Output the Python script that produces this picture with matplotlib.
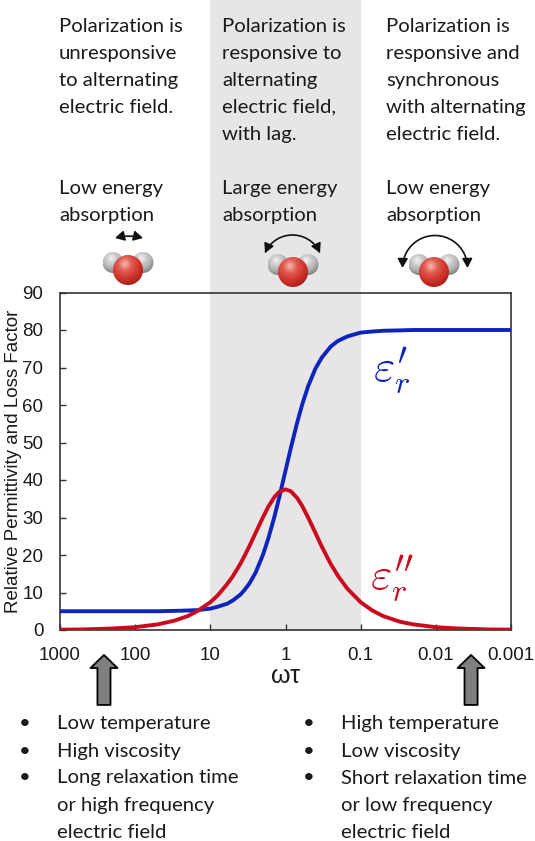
import numpy as np
import matplotlib.pyplot as plt
from matplotlib.patches import Circle, FancyArrowPatch
from matplotlib.path import Path
from matplotlib.colors import LinearSegmentedColormap

# values
wt = [1000, 500, 200, 100, 50, 30, 20, 15, 10, 8, 6, 5, 4, 3.5, 3, 2.5, 2, 1.7,
      1.4, 1.2, 1, 0.85, 0.7, 0.6, 0.5, 0.4, 0.33, 0.25, 0.2, 0.15, 0.1, 0.07,
      0.05, 0.03, 0.02, 0.01, 0.005, 0.002, 0.001]
eps_real = [5.0, 5.0, 5.0, 5.0, 5.0, 5.1, 5.2, 5.3, 5.7, 6.2, 7.0, 7.9, 9.4, 10.7,
            12.5, 15.3, 20.0, 24.3, 30.3, 35.7, 42.5, 48.5, 55.3, 60.1, 65.0, 69.7,
            72.6, 75.6, 77.1, 78.3, 79.3, 79.6, 79.8, 79.9, 80.0, 80.0, 80.0, 80.0, 80.0]
eps_loss = [0.1, 0.15, 0.4, 0.75, 1.5, 2.5, 3.7, 5.0, 7.4, 9.2, 12.2, 14.4, 17.6, 19.8,
            22.5, 25.9, 30.0, 32.8, 35.5, 36.9, 37.5, 37.0, 35.2, 33.1, 30.0, 25.9,
            22.3, 17.6, 14.4, 11.0, 7.4, 5.2, 3.7, 2.2, 1.5, 0.75, 0.4, 0.15, 0.1]

xticks = [1000, 100, 10, 1, 0.1, 0.01, 0.001]
xtick_labels = ['1000', '100', '10', '1', '0.1', '0.01', '0.001']
yticks = [0, 10, 20, 30, 40, 50, 60, 70, 80, 90]
band = [10, 0.1]
arrow_wt = [260, 0.0034]

top_notes = [
    ['Polarization is', 'unresponsive', 'to alternating', 'electric field.'],
    ['Polarization is', 'responsive to', 'alternating', 'electric field,', 'with lag.'],
    ['Polarization is', 'responsive and', 'synchronous', 'with alternating', 'electric field.'],
]
energy_notes = [
    ['Low energy', 'absorption'],
    ['Large energy', 'absorption'],
    ['Low energy', 'absorption'],
]
left_bullets = ['Low temperature', 'High viscosity', 'Long relaxation time',
                'or high frequency', 'electric field']
right_bullets = ['High temperature', 'Low viscosity', 'Short relaxation time',
                 'or low frequency', 'electric field']
bullet_on = [True, True, True, False, False]

blue = '#0d25bd'
red = '#cc0a1e'
ink = '#1a1a1a'
txt = dict(family='Lato', fontsize=14.6, color=ink, va='baseline', ha='left')

fig = plt.figure(figsize=(5.35, 8.41), dpi=100)
ax = fig.add_axes([60/535, 211/841, 451/535, 337.5/841])

ax.axvspan(band[0], band[1], ymin=0, ymax=630/337.5, color='#e7e5e6', lw=0,
           zorder=0, clip_on=False)
ax.plot(wt, eps_real, color=blue, lw=2.8, solid_capstyle='butt', zorder=3)
ax.plot(wt, eps_loss, color=red, lw=2.8, solid_capstyle='butt', zorder=3)

ax.set_xscale('log')
ax.set_xlim(1000, 0.001)
ax.set_ylim(0, 90)
ax.set_xticks(xticks)
ax.set_xticklabels(xtick_labels)
ax.minorticks_off()
ax.set_yticks(yticks)
ax.tick_params(direction='in', length=4.5, width=1, pad=12, labelsize=13.5,
               colors='#333333', labelcolor=ink)
for lab in ax.get_xticklabels() + ax.get_yticklabels():
    lab.set_family('Liberation Sans')
for s in ax.spines.values():
    s.set_color('#333333')
    s.set_linewidth(1.2)
ax.set_ylabel('Relative Permittivity and Loss Factor', family='Liberation Sans',
              fontsize=13.5, color=ink, labelpad=0)
ax.set_xlabel('ωτ', family='Liberation Sans', fontsize=18, color=ink, labelpad=0)

ax.text(0.068, 69.5, r"$\varepsilon_r'$", color=blue, fontsize=33, va='center',
        math_fontfamily='cm')
ax.text(0.076, 14, r"$\varepsilon_r''$", color=red, fontsize=33, va='center',
        math_fontfamily='cm')

# big grey arrows under the axis
for xv in arrow_wt:
    ax.annotate('', xy=(xv, -0.074), xytext=(xv, -0.222),
                xycoords=ax.get_xaxis_transform(), textcoords=ax.get_xaxis_transform(),
                annotation_clip=False,
                arrowprops=dict(arrowstyle='simple,head_length=0.94,head_width=1.94,tail_width=0.94',
                                mutation_scale=10, fc='#7f7f7f', ec='black', lw=1.3,
                                shrinkA=0, shrinkB=0))

# overlay in pixel coordinates for the notes and molecules
ov = fig.add_axes([0, 0, 1, 1], zorder=5)
ov.axis('off')

for x0, lines in zip([59, 222, 386], top_notes):
    for i, line in enumerate(lines):
        ov.text(x0, 31.7 + 27 * i, line, **txt)
for x0, lines in zip([59, 222, 386], energy_notes):
    for i, line in enumerate(lines):
        ov.text(x0, 194 + 26.7 * i, line, **txt)

for bx, tx, lines in [(25, 57, left_bullets), (309, 341, right_bullets)]:
    for i, (line, b) in enumerate(zip(lines, bullet_on)):
        y = 729.5 + 27 * i
        if b:
            ov.text(bx, y, '•', **dict(txt, ha='center'))
        ov.text(tx, y, line, **txt)


def sphere(cx, cy, r, colors, z):
    yy, xx = np.mgrid[-1:1:80j, -1:1:80j]
    d = np.clip(np.hypot(xx + 0.2, yy + 0.4) / 1.45, 0, 1)
    cmap = LinearSegmentedColormap.from_list('s', colors)
    im = ov.imshow(d, cmap=cmap, vmin=0, vmax=1, extent=(cx - r, cx + r, cy + r, cy - r),
                   origin='upper', aspect='auto', zorder=z, interpolation='bilinear')
    im.set_clip_path(Circle((cx, cy), r, transform=ov.transData))


oxy = ['#f6b9b0', '#e05a4f', '#d0352c', '#a81e18']
hyd = ['#f2f2f2', '#cccccc', '#b0b0b0', '#7c7c7c']
for cx, cy in [(128, 270), (293, 272), (434, 272)]:
    sphere(cx - 15, cy - 7.5, 10.5, hyd, 3)
    sphere(cx + 15, cy - 7.5, 10.5, hyd, 3)
    sphere(cx, cy, 15, oxy, 4)

astyle = '<|-|>,head_length=0.55,head_width=0.3'
ov.add_patch(FancyArrowPatch((115, 238), (143, 238), connectionstyle='arc3,rad=-0.12',
                             arrowstyle=astyle, mutation_scale=10, color='#111111',
                             lw=1.2, shrinkA=0, shrinkB=0, zorder=6))
for cx, cy, R, a0 in [(292.5, 265, 30, 23.6), (435, 268, 32.5, 0)]:
    th = np.radians(np.linspace(180 - a0, a0, 60))
    pts = np.column_stack([cx + R * np.cos(th), cy - R * np.sin(th)])
    ov.add_patch(FancyArrowPatch(path=Path(pts), arrowstyle=astyle, mutation_scale=10,
                                 color='#111111', lw=1.2, shrinkA=0, shrinkB=0, zorder=6))

ov.set_xlim(0, 535)
ov.set_ylim(841, 0)

fig.savefig('out.png', dpi=100)
